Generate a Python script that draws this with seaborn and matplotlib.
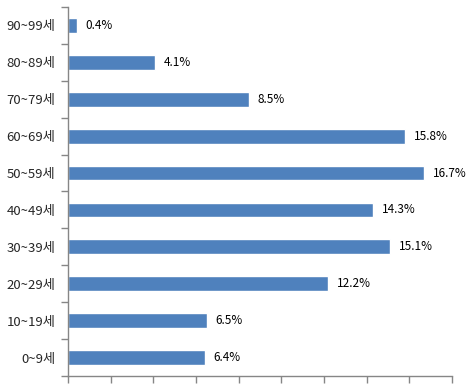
import matplotlib
matplotlib.use("Agg")
import matplotlib.pyplot as plt
import numpy as np
import pandas as pd
import seaborn as sns

# ── Data ──────────────────────────────────────────────────────────────────────
AGE_GROUPS = ["90~99세", "80~89세", "70~79세", "60~69세", "50~59세",
              "40~49세", "30~39세", "20~29세", "10~19세", "0~9세"]
SHARE = [0.4, 4.1, 8.5, 15.8, 16.7, 14.3, 15.1, 12.2, 6.5, 6.4]

BAR_BLUE = "#4F81BD"
AXIS_GRAY = "#868686"

# ── Style ─────────────────────────────────────────────────────────────────────
sns.set_theme(style="white")
plt.rcParams["font.family"] = ["Noto Sans CJK KR", "DejaVu Sans"]

df = pd.DataFrame({"age": AGE_GROUPS, "share": SHARE})

fig = plt.figure(figsize=(4.76, 3.85), dpi=100)
ax = fig.add_axes([68 / 476, 9 / 385, (452 - 68) / 476, (376 - 7) / 385])

sns.barplot(data=df, x="share", y="age", orient="h", color=BAR_BLUE,
            saturation=1, width=0.4, ax=ax)

for i, v in enumerate(SHARE):
    ax.text(v + 0.4, i, f"{v}%", va="center", ha="left", fontsize=8.5, color="black")

ax.set_xlim(0, 18)
ax.set_ylim(len(AGE_GROUPS) - 0.5, -0.5)
ax.set_xticks(np.arange(0, 19, 2))
ax.set_xticklabels([])
ax.set_xlabel("")
ax.set_ylabel("")

ax.set_yticks(range(len(AGE_GROUPS)))
ax.set_yticklabels(AGE_GROUPS, fontsize=9.5)
ax.set_yticks(np.arange(-0.5, len(AGE_GROUPS), 1), minor=True)
ax.tick_params(axis="y", which="major", length=0, pad=9)
ax.tick_params(axis="y", which="minor", length=5, width=1, color=AXIS_GRAY, direction="out", left=True)
ax.tick_params(axis="x", which="major", length=5, width=1, color=AXIS_GRAY, direction="out", bottom=True)

for side in ["top", "right"]:
    ax.spines[side].set_visible(False)
for side in ["left", "bottom"]:
    ax.spines[side].set_color(AXIS_GRAY)
    ax.spines[side].set_linewidth(1)

fig.savefig("out.png", dpi=100)
plt.close()
